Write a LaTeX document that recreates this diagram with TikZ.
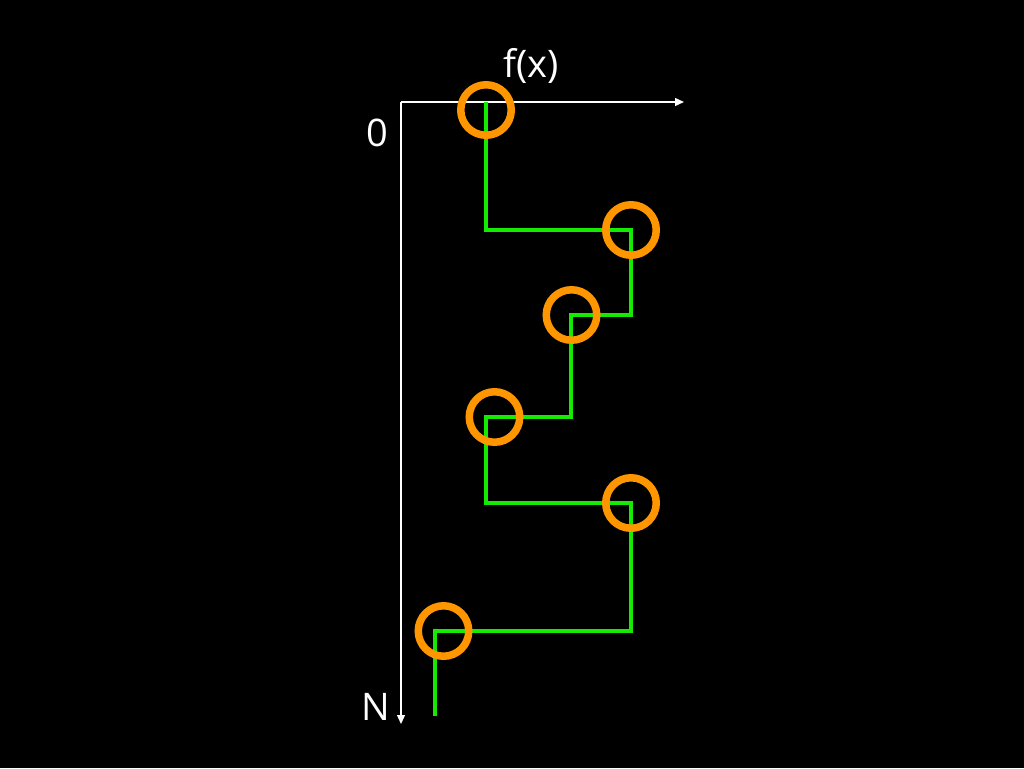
\documentclass[tikz,border=0pt]{standalone}
\usepackage{fontspec}
\setmainfont{Open Sans}
\usetikzlibrary{arrows.meta}
\definecolor{lime}{RGB}{20,235,0}
\definecolor{ringorange}{RGB}{255,150,0}
\begin{document}
\begin{tikzpicture}[x=1pt,y=-1pt,
  axis/.style={white,line width=1.3pt,-{Triangle[length=9pt,width=8pt]}},
  path/.style={lime,line width=4pt,line join=miter},
  ring/.style={draw=ringorange,line width=7.5pt,circle,minimum size=50.5pt,inner sep=0pt},
  lab/.style={text=white,font=\fontsize{38}{40}\selectfont,inner sep=0pt}]
\fill[black] (0,0) rectangle (1024,768);
\useasboundingbox (0,0) rectangle (1024,768);
\coordinate (o) at (401,102);
\coordinate (xe) at (684,102);
\coordinate (ye) at (401,724);
\draw[axis] (o) -- (xe);
\draw[axis] (o) -- (ye);
\node[lab] (zero) at (377,133) {0};
\node[lab] (n) at (376,707) {N};
\node[lab] (fx) at (531,66) {f(x)};
\coordinate (p0) at (486,102);
\coordinate (p1) at (486,230);
\coordinate (p2) at (631,230);
\coordinate (p3) at (631,315);
\coordinate (p4) at (571,315);
\coordinate (p5) at (571,417);
\coordinate (p6) at (486,417);
\coordinate (p7) at (486,503);
\coordinate (p8) at (631,503);
\coordinate (p9) at (631,631);
\coordinate (p10) at (435,631);
\coordinate (p11) at (435,716);
\draw[path] (p0) -- (p1) -- (p2) -- (p3) -- (p4) -- (p5) -- (p6) -- (p7) -- (p8) -- (p9) -- (p10) -- (p11);
\node[ring] (c1) at (486,110) {};
\node[ring] (c2) at (631,230) {};
\node[ring] (c3) at (571.5,315) {};
\node[ring] (c4) at (494.5,417) {};
\node[ring] (c5) at (631,503) {};
\node[ring] (c6) at (443.5,631) {};
\end{tikzpicture}
\end{document}
